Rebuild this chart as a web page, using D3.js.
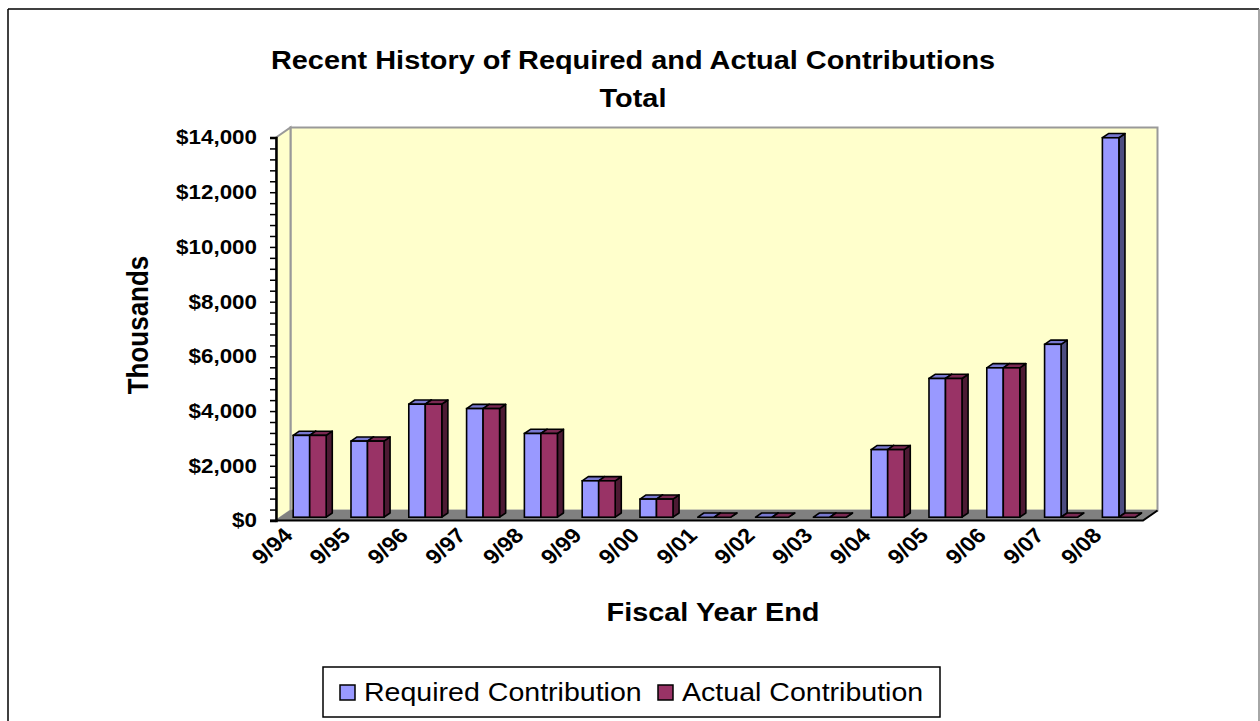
<!DOCTYPE html>
<html>
<head>
<meta charset="utf-8">
<script src="https://cdn.jsdelivr.net/npm/d3@7"></script>
<style>
  body { margin: 0; background: #fff; }
  svg { display: block; font-family: Arial, "Liberation Sans", sans-serif; }
</style>
</head>
<body>
<svg id="canvas" width="1260" height="721"></svg>
<script>
// chart values (thousands of dollars)
const categories = ['9/94', '9/95', '9/96', '9/97', '9/98', '9/99', '9/00', '9/01',
    '9/02', '9/03', '9/04', '9/05', '9/06', '9/07', '9/08']
const required = [2990, 2780, 4130, 3970, 3060, 1330, 660, 0, 0, 0, 2470, 5070, 5460, 6320, 13870]
const actual = [2990, 2780, 4130, 3970, 3060, 1330, 660, 0, 0, 0, 2470, 5070, 5460, 0, 0]
const seriesNames = ['Required Contribution', 'Actual Contribution']
const yMax = 14000
const yMajor = 2000
const yMinor = 400

const svg = d3.select('#canvas')

// the original picture is stretched sideways a bit, text follows that
const SX = 1.12
// depth of the 3d box (screen offset for z = 1)
const DX = 14.5, DY = -10
const barZ = 0.33, barDepth = 0.42
const colors = [
    { front: '#9999ff', top: '#7878d0', side: '#4d4d80' },
    { front: '#993366', top: '#7a2952', side: '#4d1a33' }
]

const x = d3.scaleBand().domain(categories).range([276, 1143])
const y = d3.scaleLinear().domain([0, yMax]).range([520.5, 137.5])
const xSeries = d3.scaleBand().domain(seriesNames).range([0, 33])

const pts = arr => arr.map(p => p.join(',')).join(' ')

// outer frame
svg.append('line').attr('x1', 8).attr('y1', 9).attr('x2', 8).attr('y2', 721).attr('stroke', '#000').attr('stroke-width', 1.5)
svg.append('line').attr('x1', 8).attr('y1', 9).attr('x2', 1259).attr('y2', 9).attr('stroke', '#000').attr('stroke-width', 1.5)
svg.append('line').attr('x1', 1259).attr('y1', 9).attr('x2', 1259).attr('y2', 721).attr('stroke', '#888').attr('stroke-width', 1.5)

// walls and floor
const [x0, x1] = x.range()
const y0 = y(0), yTop = y(yMax)
const g = svg.append('g')
g.append('polygon')
    .attr('points', pts([[x0 + DX, yTop + DY], [x1 + DX, yTop + DY], [x1 + DX, y0 + DY], [x0 + DX, y0 + DY]]))
    .attr('fill', '#ffffcc').attr('stroke', '#999').attr('stroke-width', 2)
g.append('polygon')
    .attr('points', pts([[x0, yTop], [x0 + DX, yTop + DY], [x0 + DX, y0 + DY], [x0, y0]]))
    .attr('fill', '#ffffcc').attr('stroke', '#999').attr('stroke-width', 2)
g.append('polygon')
    .attr('points', pts([[x0, y0], [x0 + DX, y0 + DY], [x1 + DX, y0 + DY], [x1, y0]]))
    .attr('fill', '#808080').attr('stroke', '#808080').attr('stroke-width', 1)
g.append('polyline')
    .attr('points', pts([[x0 - 6, y0], [x1, y0], [x1 + DX, y0 + DY]]))
    .attr('fill', 'none').attr('stroke', '#000').attr('stroke-width', 2)

// bars
const barData = categories.map((c, i) => [required[i], actual[i]].map((v, s) => ({ c, v, s })))
const bx = d => x(d.c) + x.bandwidth() / 2 - 16.5 + barZ * DX + xSeries(seriesNames[d.s])
const bBase = y0 + barZ * DY
const ddx = barDepth * DX, ddy = barDepth * DY

const drawBar = (sel, d) => {
    const w = xSeries.bandwidth()
    const left = bx(d)
    const top = bBase - (y0 - y(d.v))
    const col = colors[d.s]
    const bar = sel.append('g')
    bar.append('polygon')
        .attr('points', pts([[left + w, top], [left + w + ddx, top + ddy], [left + w + ddx, bBase + ddy], [left + w, bBase]]))
        .attr('fill', col.side).attr('stroke', '#000').attr('stroke-width', 1.6).attr('stroke-linejoin', 'round')
    bar.append('polygon')
        .attr('points', pts([[left, top], [left + w, top], [left + w + ddx, top + ddy], [left + ddx, top + ddy]]))
        .attr('fill', col.top).attr('stroke', '#000').attr('stroke-width', 1.6).attr('stroke-linejoin', 'round')
    if (d.v > 0) {
        bar.append('rect')
            .attr('x', left).attr('y', top).attr('width', w).attr('height', bBase - top)
            .attr('fill', col.front).attr('stroke', '#000').attr('stroke-width', 1.6)
    }
}

const bars = svg.append('g')
barData.forEach(group => group.forEach(d => drawBar(bars, d)))

// y axis
const yAxis = d3.axisLeft(y)
    .tickValues(d3.range(0, yMax + 1, yMinor))
    .tickSize(6)
    .tickFormat(v => v % yMajor === 0 ? '$' + d3.format(',')(v) : '')
const ay = svg.append('g').attr('transform', `translate(${x0},0)`).call(yAxis)
ay.select('.domain').attr('stroke', '#000').attr('stroke-width', 2.5)
ay.selectAll('.tick line').attr('stroke', '#000').attr('stroke-width', 1.5)
ay.selectAll('.tick text')
    .attr('x', -19 / SX)
    .attr('transform', `scale(${SX},1)`)
    .attr('font-size', 20).attr('font-weight', 'bold').attr('fill', '#000')
    .attr('font-family', 'Arial, "Liberation Sans", sans-serif')

// category labels
svg.append('g').selectAll('text')
    .data(categories)
    .enter()
    .append('text')
        .attr('transform', d => `translate(${x(d) + x.bandwidth() / 2 - 33},546) scale(${SX},1) rotate(-45)`)
        .attr('text-anchor', 'middle')
        .attr('dy', '0.35em')
        .attr('font-size', 21).attr('font-weight', 'bold')
        .text(d => d)

// titles
const addText = (txt, tx, ty, size, weight, rot = 0, anchor = 'middle') => svg.append('text')
    .attr('transform', `translate(${tx},${ty}) scale(${SX},1) rotate(${rot})`)
    .attr('text-anchor', anchor)
    .attr('font-size', size).attr('font-weight', weight)
    .text(txt)

addText('Recent History of Required and Actual Contributions', 633, 69, 25.8, 'bold')
addText('Total', 633, 107, 25.8, 'bold')
addText('Fiscal Year End', 713, 621, 25.8, 'bold')
addText('Thousands', 148, 325, 26, 'bold', -90)

// legend
const legend = svg.append('g')
legend.append('rect').attr('x', 323).attr('y', 667).attr('width', 617).attr('height', 50)
    .attr('fill', '#fff').attr('stroke', '#000').attr('stroke-width', 1.5)
const legendX = [340, 658]
seriesNames.forEach((name, i) => {
    legend.append('rect').attr('x', legendX[i]).attr('y', 685).attr('width', 15).attr('height', 15)
        .attr('fill', colors[i].front).attr('stroke', '#000').attr('stroke-width', 1.5)
    legend.append('text')
        .attr('transform', `translate(${legendX[i] + 24},701) scale(${SX},1)`)
        .attr('font-size', 25.5)
        .text(name)
})
</script>
</body>
</html>
